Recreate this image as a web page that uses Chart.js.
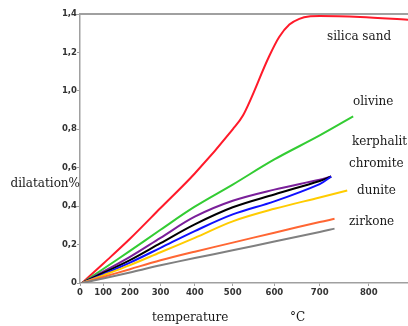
<!DOCTYPE html>
<html>
<head>
<meta charset="utf-8">
<script src="https://cdn.jsdelivr.net/npm/chart.js@4/dist/chart.umd.min.js"></script>
<style>
    html, body { margin: 0; padding: 0; background: #fff; }
    #wrap { position: relative; width: 408px; height: 326px; }
</style>
</head>
<body>
<div id="wrap"><canvas id="dilatationChart" width="408" height="326"></canvas></div>
<script>
// temperature (°C) and dilatation (%)
const silicaTemp = [10, 100, 200, 300, 400, 500, 525, 588, 611, 634, 656, 680, 700, 783, 875];
const silicaDil = [0, 0.10, 0.23, 0.39, 0.57, 0.80, 0.87, 1.18, 1.28, 1.345, 1.375, 1.388, 1.39, 1.385, 1.37];

const olivineTemp = [10, 100, 200, 300, 400, 500, 600, 700, 769];
const olivineDil = [0, 0.073, 0.167, 0.277, 0.397, 0.512, 0.643, 0.768, 0.867];

const kerphalitTemp = [10, 100, 200, 300, 400, 500, 600, 700, 724];
const kerphalitDil = [0, 0.059, 0.136, 0.235, 0.345, 0.428, 0.486, 0.538, 0.554];

const chromiteTemp = [10, 100, 200, 300, 400, 500, 600, 700, 724];
const chromiteDil = [0, 0.052, 0.119, 0.207, 0.305, 0.394, 0.461, 0.531, 0.554];

const blueTemp = [10, 100, 200, 300, 400, 500, 600, 700, 724];
const blueDil = [0, 0.045, 0.106, 0.183, 0.27, 0.357, 0.425, 0.515, 0.554];

const duniteTemp = [10, 100, 200, 300, 400, 500, 600, 700, 757];
const duniteDil = [0, 0.04, 0.093, 0.16, 0.235, 0.321, 0.386, 0.445, 0.481];

const zirkoneTemp = [10, 100, 200, 300, 400, 500, 600, 700, 731];
const zirkoneDil = [0, 0.031, 0.072, 0.118, 0.163, 0.21, 0.262, 0.317, 0.334];

const grayTemp = [10, 100, 200, 300, 400, 500, 600, 700, 731];
const grayDil = [0, 0.023, 0.055, 0.092, 0.13, 0.17, 0.216, 0.265, 0.283];

const curveLabels = ['silica sand', 'olivine', 'kerphalit', 'chromite', 'dunite', 'zirkone'];
const tempTicks = [0, 100, 200, 300, 400, 500, 600, 700, 800];

// the temperature axis of the figure is stretched towards the hot end
const K = 0.00087;
const warp = v => v + K * v * v;
const unwarp = w => (-1 + Math.sqrt(1 + 4 * K * w)) / (2 * K);

class WarpScale extends Chart.LinearScale {
    getPixelForValue(value) {
        const lo = warp(this.min);
        const hi = warp(this.max);
        return this.getPixelForDecimal((warp(value) - lo) / (hi - lo));
    }
    getValueForPixel(pixel) {
        const lo = warp(this.min);
        const hi = warp(this.max);
        return unwarp(lo + this.getDecimalForPixel(pixel) * (hi - lo));
    }
}
WarpScale.id = 'warp';
WarpScale.defaults = Chart.LinearScale.defaults;
Chart.register(WarpScale);

const toPoints = (xs, ys) => xs.map((x, i) => ({ x: x, y: ys[i] }));

const series = (data, color, mono) => ({
    data: data,
    borderColor: color,
    backgroundColor: color,
    borderWidth: 2,
    pointRadius: 0,
    fill: false,
    tension: 0.35,
    cubicInterpolationMode: mono ? 'monotone' : 'default',
});

const serif = '"DejaVu Serif", serif';

const annotations = {
    id: 'annotations',
    afterDraw(chart) {
        const ctx = chart.ctx;
        const area = chart.chartArea;
        ctx.save();
        // top frame line
        ctx.strokeStyle = '#a0a0a0';
        ctx.lineWidth = 2;
        ctx.beginPath();
        ctx.moveTo(area.left, area.top);
        ctx.lineTo(chart.width, area.top);
        ctx.stroke();

        ctx.fillStyle = '#1a1a1a';
        ctx.font = '12px ' + serif;
        ctx.textBaseline = 'middle';
        ctx.textAlign = 'left';
        const spots = [[327, 37], [353, 102], [352, 142], [349, 164], [357, 191], [349, 222]];
        curveLabels.forEach((label, i) => {
            ctx.fillText(label, spots[i][0], spots[i][1]);
        });

        ctx.textAlign = 'right';
        ctx.fillText('dilatation%', 80, 184);
        ctx.textAlign = 'left';
        ctx.fillText('temperature', 152, 318);
        ctx.fillText('°C', 290, 318);
        ctx.restore();
    },
};

new Chart(document.getElementById('dilatationChart').getContext('2d'), {
    type: 'line',
    data: {
        datasets: [
            series(toPoints(grayTemp, grayDil), '#808080'),
            series(toPoints(zirkoneTemp, zirkoneDil), '#ff6633'),
            series(toPoints(duniteTemp, duniteDil), '#ffcc00'),
            series(toPoints(blueTemp, blueDil), '#1010ff'),
            series(toPoints(chromiteTemp, chromiteDil), '#000000'),
            series(toPoints(kerphalitTemp, kerphalitDil), '#7a1f9a'),
            series(toPoints(olivineTemp, olivineDil), '#33cc33'),
            series(toPoints(silicaTemp, silicaDil), '#ff1a2a', true),
        ],
    },
    options: {
        responsive: false,
        animation: false,
        layout: {
            padding: { top: 14, right: 0, left: 0, bottom: 0 },
        },
        plugins: {
            legend: { display: false },
            tooltip: { enabled: false },
        },
        scales: {
            x: {
                type: 'warp',
                min: 0,
                max: 875,
                afterFit: (scale) => { scale.height = 43; },
                afterBuildTicks: (scale) => {
                    scale.ticks = tempTicks.map(v => ({ value: v }));
                },
                border: { color: '#a0a0a0', width: 1.5 },
                grid: { drawOnChartArea: false, drawTicks: true, tickLength: 3, color: '#a0a0a0' },
                ticks: {
                    padding: 2,
                    maxRotation: 0,
                    autoSkip: false,
                    color: '#333',
                    font: { family: '"DejaVu Sans", sans-serif', size: 8.5, weight: 'bold' },
                    callback: (v) => String(v),
                },
            },
            y: {
                min: 0,
                max: 1.4,
                afterFit: (scale) => { scale.width = 80; },
                border: { color: '#a0a0a0', width: 1.5 },
                grid: { drawOnChartArea: false, drawTicks: true, tickLength: 3, color: '#a0a0a0' },
                ticks: {
                    stepSize: 0.2,
                    padding: 0,
                    color: '#333',
                    font: { family: '"DejaVu Sans", sans-serif', size: 8.5, weight: 'bold' },
                    callback: (v) => (v === 0 ? '0' : v.toFixed(1).replace('.', ',')),
                },
            },
        },
    },
    plugins: [annotations],
});
</script>
</body>
</html>
